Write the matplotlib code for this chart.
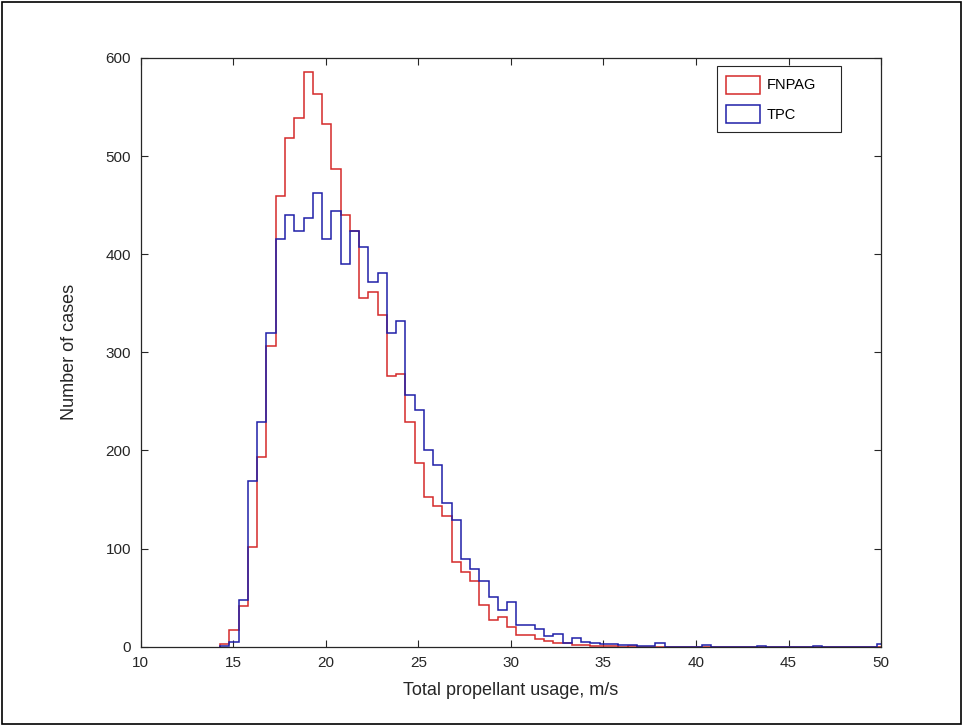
import numpy as np
import matplotlib.pyplot as plt
from matplotlib.patches import Rectangle

# histogram counts, 0.5 m/s bins starting at 14.3 m/s
bin_start = 14.3
bin_width = 0.5
fnpag = [3, 17, 41, 102, 193, 306, 459, 518, 539, 586, 563, 533, 487, 440, 424,
         355, 362, 338, 276, 278, 229, 187, 153, 143, 133, 86, 76, 67, 42, 27,
         30, 20, 12, 12, 8, 6, 4, 4, 2, 2, 1, 1, 1, 0, 1, 0, 0, 0, 0, 0,
         0, 0, 0, 0, 0, 0, 0, 0, 0, 0, 0, 0, 0, 0, 0, 0, 0, 0, 0, 0, 0, 0]
tpc = [1, 5, 48, 169, 229, 320, 416, 440, 424, 437, 462, 416, 444, 390, 424,
       407, 372, 381, 320, 332, 257, 241, 200, 185, 146, 129, 89, 79, 67, 51,
       37, 46, 22, 22, 18, 11, 13, 4, 9, 5, 4, 3, 3, 2, 2, 1, 1, 4, 0, 0,
       0, 0, 2, 0, 0, 0, 0, 0, 1, 0, 0, 0, 0, 0, 1, 0, 0, 0, 0, 0, 0, 3]
series_names = ["FNPAG", "TPC"]

plt.rcParams['font.family'] = ['Liberation Sans', 'DejaVu Sans']

edges = bin_start + bin_width * np.arange(len(fnpag) + 1)
centers = edges[:-1] + bin_width / 2

fig = plt.figure(figsize=(9.63, 7.25), dpi=100)
ax = fig.add_axes([0.146, 0.108, 0.769, 0.812])

ax.hist(centers, bins=edges, weights=fnpag, histtype='step', color='#d42a2a',
        linewidth=1.1, label=series_names[0])
ax.hist(centers, bins=edges, weights=tpc, histtype='step', color='#1f1fa8',
        linewidth=1.1, label=series_names[1])

ax.set_xlim(10, 50)
ax.set_ylim(0, 600)
ax.set_xticks(np.arange(10, 51, 5))
ax.set_yticks(np.arange(0, 601, 100))
ax.tick_params(direction='in', top=True, right=True, length=5, labelsize=11,
               colors='#262626', pad=7)
for s in ax.spines.values():
    s.set_color('#262626')
    s.set_linewidth(0.9)

ax.set_xlabel("Total propellant usage, m/s", fontsize=13, color='#262626', labelpad=8)
ax.set_ylabel("Number of cases", fontsize=13, color='#262626', labelpad=20)

leg = ax.legend(loc='upper left', bbox_to_anchor=(0.778, 0.874, 0.168, 0.112),
                mode='expand', fontsize=10.5,
                handlelength=2.3, handleheight=1.5, handletextpad=0.45,
                borderpad=0.65, labelspacing=0.8, borderaxespad=0,
                fancybox=False, framealpha=1)
leg.get_frame().set_edgecolor('#262626')
leg.get_frame().set_linewidth(0.8)

fig.patches.append(Rectangle((0.002, 0.002), 0.996, 0.995, transform=fig.transFigure,
                             fill=False, edgecolor='black', linewidth=1.2))

fig.savefig("out.png", dpi=100)
